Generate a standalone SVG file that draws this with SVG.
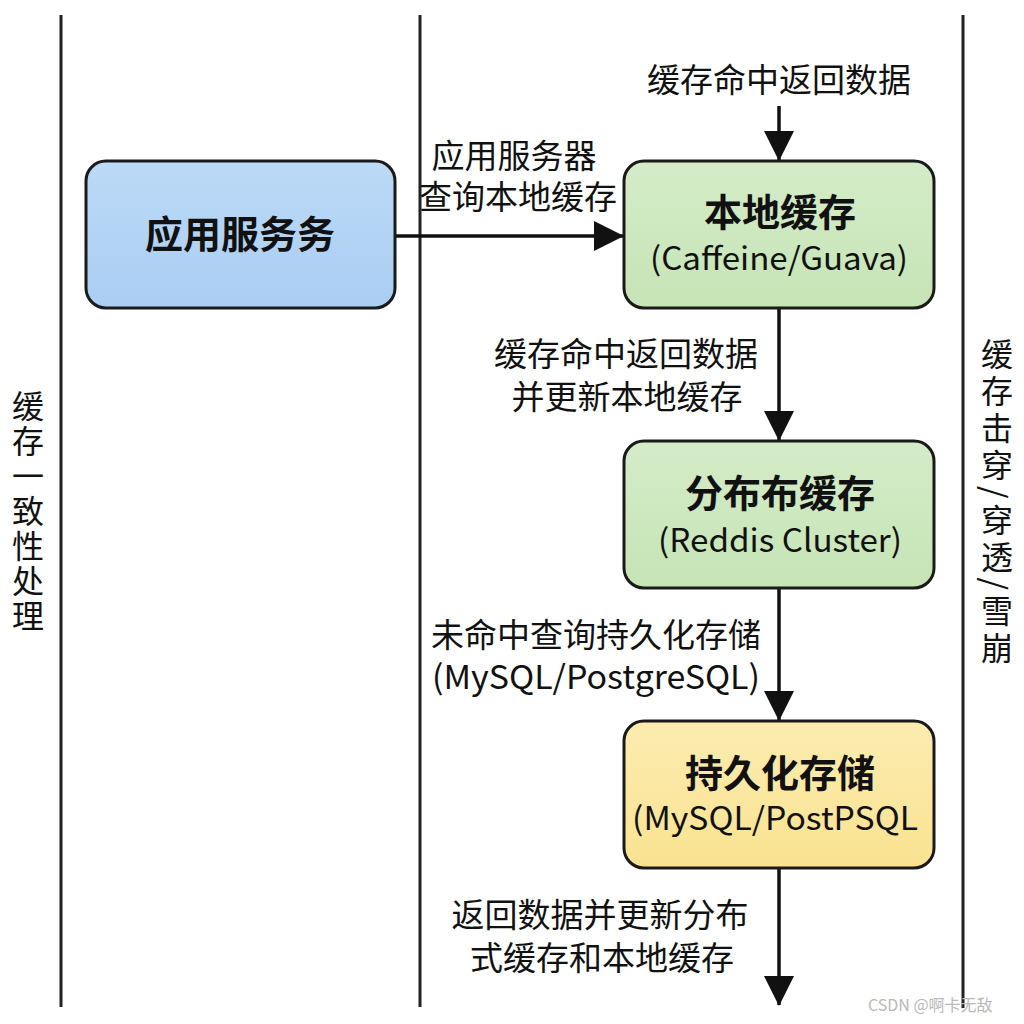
<svg xmlns="http://www.w3.org/2000/svg" width="1024" height="1024" viewBox="0 0 1024 1024">
<style>
.lane{stroke:#222;stroke-width:3;fill:none}
.box{stroke:#1a1a1a;stroke-width:3}
.conn{stroke:#111;stroke-width:3.5;fill:none}
.t{font-family:"Noto Sans CJK SC","Noto Sans",sans-serif;fill:#111}
.title{font-size:38px;font-weight:bold;text-anchor:middle}
.sub{font-size:32px;text-anchor:middle}
.lbl{font-size:33px;text-anchor:middle}
.vert{font-size:32px;writing-mode:vertical-rl}
.wm{font-family:"Noto Sans CJK SC","Noto Sans",sans-serif;font-size:16px;fill:#b8b8b8}
</style>
<defs>
<marker id="ah" viewBox="0 0 30 30" refX="29" refY="15" markerWidth="30" markerHeight="30" markerUnits="userSpaceOnUse" orient="auto">
<path d="M0,0 L30,15 L0,30 Z" fill="#111"/>
</marker>
<linearGradient id="gBlue" x1="0" y1="0" x2="0" y2="1"><stop offset="0" stop-color="#bcdaf7"/><stop offset="1" stop-color="#aacdf2"/></linearGradient>
<linearGradient id="gGreen" x1="0" y1="0" x2="0" y2="1"><stop offset="0" stop-color="#d4ecc8"/><stop offset="1" stop-color="#c6e4b6"/></linearGradient>
<linearGradient id="gYellow" x1="0" y1="0" x2="0" y2="1"><stop offset="0" stop-color="#fcecb0"/><stop offset="1" stop-color="#f9e291"/></linearGradient>
</defs>
<rect width="1024" height="1024" fill="#fff"/>
<g id="lanes">
<line class="lane" x1="61" y1="15" x2="61" y2="1007"/>
<line class="lane" x1="420" y1="15" x2="420" y2="1007"/>
<line class="lane" x1="963" y1="15" x2="963" y2="1008"/>
</g>
<g id="connectors">
<line class="conn" x1="779" y1="106" x2="779" y2="160" marker-end="url(#ah)"/>
<line class="conn" x1="395" y1="236" x2="623" y2="236" marker-end="url(#ah)"/>
<line class="conn" x1="779" y1="308" x2="779" y2="440" marker-end="url(#ah)"/>
<line class="conn" x1="779" y1="588" x2="779" y2="720" marker-end="url(#ah)"/>
<line class="conn" x1="779" y1="868" x2="779" y2="1005" marker-end="url(#ah)"/>
</g>
<g id="labels">
<text class="t lbl" x="779" y="92">缓存命中返回数据</text>
<text class="t lbl"><tspan x="514" y="168">应用服务器</tspan><tspan x="518" y="209">查询本地缓存</tspan></text>
<text class="t lbl"><tspan x="626" y="366">缓存命中返回数据</tspan><tspan x="627" y="409">并更新本地缓存</tspan></text>
<text class="t lbl"><tspan x="596" y="647">未命中查询持久化存储</tspan><tspan x="596" y="689" textLength="328" lengthAdjust="spacingAndGlyphs">(MySQL/PostgreSQL)</tspan></text>
<text class="t lbl"><tspan x="600" y="927">返回数据并更新分布</tspan><tspan x="602" y="970">式缓存和本地缓存</tspan></text>
</g>
<g id="node-app">
<rect class="box" x="86" y="161" width="309" height="147" rx="20" fill="url(#gBlue)"/>
<text class="t title" x="240" y="248">应用服务务</text>
</g>
<g id="node-local">
<rect class="box" x="624" y="161" width="310" height="147" rx="20" fill="url(#gGreen)"/>
<text class="t title" x="780" y="226">本地缓存</text>
<text class="t sub" x="779" y="270" textLength="258" lengthAdjust="spacingAndGlyphs">(Caffeine/Guava)</text>
</g>
<g id="node-dist">
<rect class="box" x="624" y="441" width="310" height="147" rx="20" fill="url(#gGreen)"/>
<text class="t title" x="780" y="507">分布布缓存</text>
<text class="t sub" x="780" y="552" textLength="244" lengthAdjust="spacingAndGlyphs">(Reddis Cluster)</text>
</g>
<g id="node-db">
<rect class="box" x="624" y="721" width="310" height="147" rx="20" fill="url(#gYellow)"/>
<text class="t title" x="780" y="787">持久化存储</text>
<text class="t sub" x="775" y="830" textLength="286" lengthAdjust="spacingAndGlyphs">(MySQL/PostPSQL</text>
</g>
<g id="side-left">
<text class="t vert" x="28" y="390" letter-spacing="3">缓存一致性处理</text>
</g>
<g id="side-right">
<text class="t vert" x="997" y="338" letter-spacing="5">缓存击穿/穿透/雪崩</text>
</g>
<text class="wm" x="868" y="1011">CSDN @啊卡无敌</text>
</svg>
